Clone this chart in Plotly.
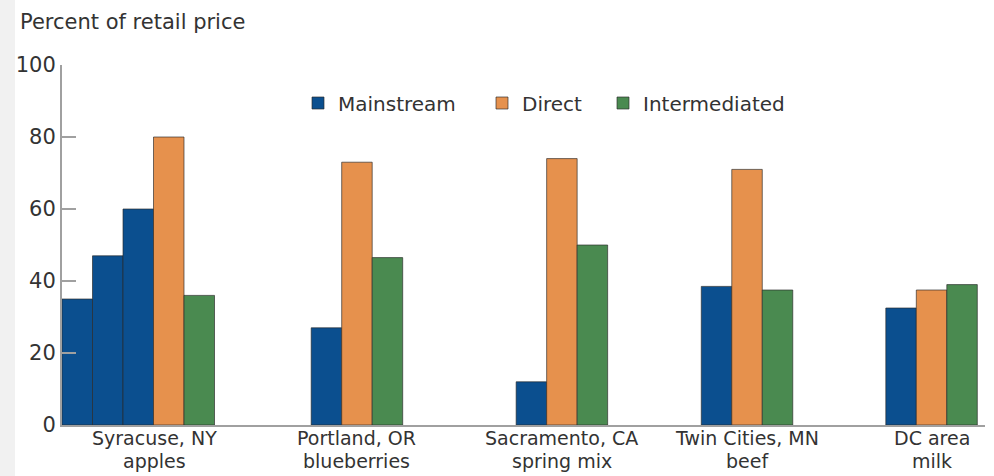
import plotly.graph_objects as go

# ---- data ----
categories = ["Syracuse, NY<br>apples", "Portland, OR<br>blueberries",
              "Sacramento, CA<br>spring mix", "Twin Cities, MN<br>beef", "DC area<br>milk"]
mainstream = [[35, 47, 60], [27], [12], [38.5], [32.5]]
direct = [80, 73, 74, 71, 37.5]
intermediated = [36, 46.5, 50, 37.5, 39]
y_ticks = [0, 20, 40, 60, 80, 100]

# ---- layout constants (slot units, one bar = one slot) ----
group_start = [0.0, 8.17, 14.89, 20.96, 27.01]
label_pos = [3.02, 9.67, 16.39, 22.46, 28.51]

FONT = "DejaVu Sans"
BLUE, ORANGE, GREEN = "#0b4f8f", "#e6914d", "#4a8a50"
EDGE = "rgba(40,40,40,0.65)"

mx, my, dx, ix = [], [], [], []
for g, vals in enumerate(mainstream):
    for k, v in enumerate(vals):
        mx.append(group_start[g] + k + 0.5)
        my.append(v)
    dx.append(group_start[g] + len(vals) + 0.5)
    ix.append(group_start[g] + len(vals) + 1.5)

fig = go.Figure()
fig.add_bar(x=mx, y=my, width=1, name="Mainstream", legend="legend",
            marker=dict(color=BLUE, line=dict(color=EDGE, width=1)))
fig.add_bar(x=dx, y=direct, width=1, name="Direct", legend="legend2",
            marker=dict(color=ORANGE, line=dict(color=EDGE, width=1)))
fig.add_bar(x=ix, y=intermediated, width=1, name="Intermediated", legend="legend3",
            marker=dict(color=GREEN, line=dict(color=EDGE, width=1)))

L, R, T, B = 62, 9, 65, 51
W = 994 - L - R
H = 476 - T - B

def px_x(p):
    return (p - L) / W

def px_y(p):
    return 1 - (p - T) / H

# category labels: two lines each, placed as separate annotations at the category positions
cat_annots = []
for pos, label in zip(label_pos, categories):
    for line_no, line in enumerate(label.split("<br>")):
        cat_annots.append(dict(text=line, xref="x", yref="paper", x=pos,
                               y=px_y(438 + 23 * line_no), xanchor="center",
                               yanchor="middle", showarrow=False,
                               font=dict(family=FONT, size=19, color="#333")))

leg_common = dict(orientation="h", xanchor="left", yanchor="middle",
                  font=dict(family=FONT, size=20, color="#333"),
                  bgcolor="rgba(0,0,0,0)", borderwidth=0)
fig.update_layout(
    width=994, height=476,
    margin=dict(l=L, r=R, t=T, b=B, autoexpand=False),
    paper_bgcolor="white", plot_bgcolor="white",
    barmode="overlay",
    showlegend=True,
    legend=dict(x=px_x(298), y=px_y(103), **leg_common),
    legend2=dict(x=px_x(482), y=px_y(103), **leg_common),
    legend3=dict(x=px_x(603), y=px_y(103), **leg_common),
    font=dict(family=FONT, color="#333"),
    xaxis=dict(range=[0, W / 30.5], tickmode="array", tickvals=label_pos,
               showticklabels=False, ticks="", showgrid=False, zeroline=False,
               showline=True, linecolor="#a0a0a0", linewidth=2, automargin=False),
    yaxis=dict(range=[0, 100], tickmode="array", tickvals=y_ticks,
               ticks="inside", ticklen=14, tickcolor="#a0a0a0", tickwidth=1.5,
               showgrid=False, zeroline=False, showline=True,
               linecolor="#a0a0a0", linewidth=2, automargin=False,
               tickfont=dict(family=FONT, size=21, color="#333")),
    shapes=[dict(type="rect", xref="paper", yref="paper",
                 x0=px_x(0), x1=px_x(15), y0=px_y(476), y1=px_y(0),
                 fillcolor="#f1f1f1", line=dict(width=0), layer="below")],
    annotations=[dict(text="Percent of retail price", xref="paper", yref="paper",
                      x=px_x(18), y=px_y(22), xanchor="left", yanchor="middle",
                      showarrow=False,
                      font=dict(family=FONT, size=21, color="#333"))] + cat_annots,
)

fig.write_html("out.html", config={"displayModeBar": False},
               post_script="document.body.style.margin='0';document.body.style.overflow='hidden';")
